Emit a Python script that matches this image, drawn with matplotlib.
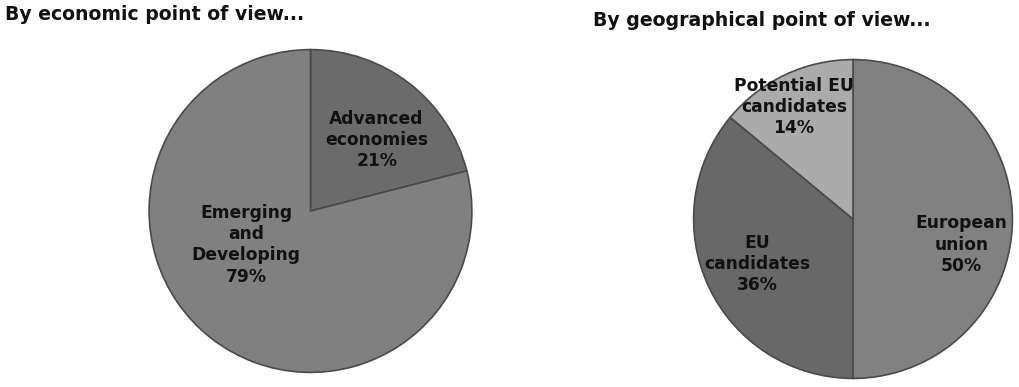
import matplotlib
matplotlib.use("Agg")
import matplotlib.pyplot as plt

# Economic breakdown
econ_labels = ["Advanced\neconomies", "Emerging\nand\nDeveloping"]
econ_values = [21, 79]
econ_colors = ["#6b6b6b", "#808080"]

# Geographical breakdown
geo_labels = ["European\nunion", "EU\ncandidates", "Potential EU\ncandidates"]
geo_values = [50, 36, 14]
geo_colors = ["#818181", "#686868", "#ababab"]

W, H = 1019, 387
fig = plt.figure(figsize=(W / 100, H / 100), dpi=100)
fig.patch.set_facecolor("white")

FONT = "DejaVu Sans"


def add_pie(cx, cy, r, values, colors, labels, label_pos, fs):
    ax = fig.add_axes([(cx - r) / W, (H - cy - r) / H, 2 * r / W, 2 * r / H])
    ax.pie(values, colors=colors, startangle=90, counterclock=False,
           radius=1.0,
           wedgeprops=dict(edgecolor="#4a4a4a", linewidth=1.2))
    for lab, v, (x, y) in zip(labels, values, label_pos):
        ax.text(x, y, f"{lab}\n{v}%", ha="center", va="center",
                fontsize=fs, fontweight="bold", family=FONT,
                color="#111111", linespacing=1.22)
    ax.set_xlim(-1.01, 1.01)
    ax.set_ylim(-1.01, 1.01)
    ax.set_aspect("equal")
    ax.axis("off")
    return ax


add_pie(310.5, 211, 163, econ_values, econ_colors, econ_labels,
        [(0.41, 0.44), (-0.40, -0.21)], 12.3)
add_pie(853, 219, 161, geo_values, geo_colors, geo_labels,
        [(0.68, -0.16), (-0.60, -0.28), (-0.37, 0.70)], 12.3)

fig.text(5 / W, 1 - 15 / H, "By economic point of view...", ha="left",
         va="center", fontsize=13.6, fontweight="bold", family=FONT,
         color="#111111")
fig.text(593 / W, 1 - 21 / H, "By geographical point of view...", ha="left",
         va="center", fontsize=13.6, fontweight="bold", family=FONT,
         color="#111111")

fig.savefig("out.png", dpi=100, facecolor="white")
